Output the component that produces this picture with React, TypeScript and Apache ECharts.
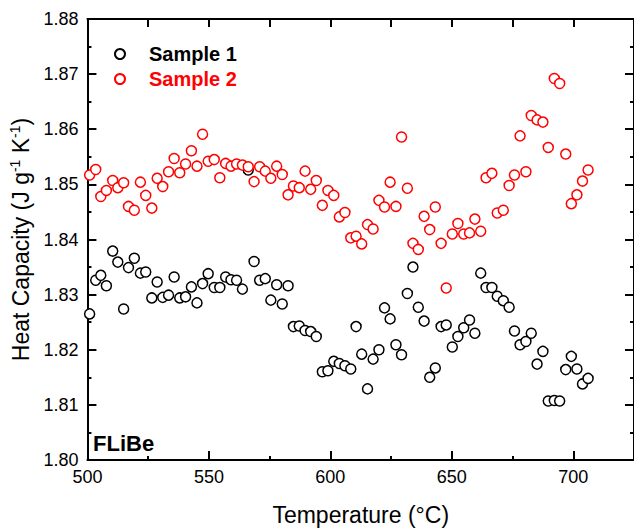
import React, { useEffect, useRef } from "react";
import * as echarts from "echarts";

const temps = [
  500.9, 503.4, 505.5, 507.8, 510.4, 512.5, 514.9, 516.9, 519.3, 521.8,
  524.0, 526.5, 528.7, 531.0, 533.4, 535.7, 538.0, 540.4, 542.8, 545.1,
  547.4, 549.7, 552.2, 554.5, 556.9, 559.1, 561.4, 563.8, 566.2, 568.6,
  570.9, 573.2, 575.5, 577.9, 580.2, 582.6, 584.8, 587.2, 589.6, 591.9,
  594.2, 596.7, 599.0, 601.4, 603.7, 606.0, 608.4, 610.6, 612.9, 615.3,
  617.6, 620.0, 622.3, 624.6, 627.0, 629.3, 631.7, 634.0, 636.2, 638.6,
  640.9, 643.2, 645.6, 647.7, 650.2, 652.5, 654.9, 657.3, 659.5, 661.9,
  664.1, 666.5, 668.7, 671.2, 673.6, 675.8, 678.1, 680.5, 682.7, 685.1,
  687.5, 689.7, 692.2, 694.4, 696.9, 699.2, 701.5, 703.8, 706.1,
];

const sample1 = [
  1.8265, 1.8326, 1.8335, 1.8316, 1.8379, 1.8359, 1.8274, 1.8349, 1.8366, 1.8339,
  1.8341, 1.8294, 1.8323, 1.8295, 1.8299, 1.8332, 1.8294, 1.8296, 1.8314, 1.8285,
  1.832, 1.8338, 1.8313, 1.8313, 1.8332, 1.8327, 1.8326, 1.831, 1.8526, 1.836,
  1.8326, 1.8329, 1.829, 1.8318, 1.8283, 1.8316, 1.8242, 1.8243, 1.8235, 1.8233,
  1.8224, 1.816, 1.8162, 1.8179, 1.8175, 1.8171, 1.8165, 1.8242, 1.8192, 1.8129,
  1.8183, 1.82, 1.8276, 1.8256, 1.8209, 1.8191, 1.8302, 1.835, 1.8277, 1.8252,
  1.815, 1.8167, 1.8242, 1.8245, 1.8205, 1.8224, 1.824, 1.8254, 1.823, 1.8339,
  1.8313, 1.8313, 1.8297, 1.8289, 1.8277, 1.8234, 1.8209, 1.8215, 1.823, 1.8174,
  1.8197, 1.8107, 1.8108, 1.8107, 1.8164, 1.8188, 1.8165, 1.8138, 1.8148,
];

const sample2 = [
  1.8517, 1.8527, 1.8478, 1.8489, 1.8507, 1.8494, 1.8503, 1.846, 1.8453, 1.8504,
  1.848, 1.8457, 1.8511, 1.8496, 1.8523, 1.8547, 1.8521, 1.8537, 1.8561, 1.8533,
  1.8591, 1.8542, 1.8545, 1.8512, 1.8538, 1.8533, 1.8537, 1.8535, 1.8532, 1.8505,
  1.8532, 1.8524, 1.8511, 1.8533, 1.8518, 1.8481, 1.8497, 1.8494, 1.8524, 1.8491,
  1.8507, 1.8462, 1.8489, 1.848, 1.8441, 1.8449, 1.8403, 1.8406, 1.8392, 1.8427,
  1.8419, 1.8471, 1.8459, 1.8504, 1.846, 1.8586, 1.8493, 1.8393, 1.8382, 1.8442,
  1.8418, 1.8459, 1.8393, 1.8312, 1.841, 1.8429, 1.841, 1.8412, 1.8437, 1.8415,
  1.8512, 1.852, 1.8448, 1.8453, 1.8498, 1.8517, 1.8588, 1.8523, 1.8625, 1.8617,
  1.8613, 1.8567, 1.8692, 1.8683, 1.8555, 1.8465, 1.8481, 1.8506, 1.8526,
];

const seriesNames = ["Sample 1", "Sample 2"];
const seriesColors = ["#000000", "#ff0000"];
const X_MIN = 500;
const X_MAX = 725;
const Y_MIN = 1.8;
const Y_MAX = 1.88;

const FONT = "'Liberation Sans', Arial, sans-serif";

export default function App() {
  const ref = useRef<HTMLDivElement>(null);

  useEffect(() => {
    if (!ref.current) return;
    const chart = echarts.init(ref.current, null, { renderer: "svg" });
    const axisLine = { show: true, lineStyle: { color: "#000", width: 2 } };
    const baseX = {
      type: "value" as const,
      min: X_MIN,
      max: X_MAX,
      splitLine: { show: false },
    };
    const baseY = {
      type: "value" as const,
      min: Y_MIN,
      max: Y_MAX,
      interval: 0.01,
      splitLine: { show: false },
    };
    chart.setOption({
      animation: false,
      backgroundColor: "#fff",
      grid: { left: 86, top: 19, width: 552, height: 447 },
      legend: {
        orient: "vertical",
        left: 109,
        top: 39,
        itemWidth: 48,
        itemHeight: 10,
        itemGap: 5,
        selectedMode: false,
        textStyle: { fontSize: 20, fontWeight: "bold", fontFamily: FONT, lineHeight: 20 },
        data: seriesNames.map((n, i) => ({ name: n, textStyle: { color: seriesColors[i] } })),
      },
      xAxis: [
        {
          ...baseX,
          position: "bottom",
          interval: 50,
          axisLine,
          axisTick: { show: true, inside: true, length: 9, lineStyle: { width: 2, color: "#000" } },
          axisLabel: {
            show: true,
            fontSize: 18,
            fontFamily: FONT,
            color: "#000",
            margin: 8,
            showMaxLabel: false,
          },
          name: "Temperature (°C)",
          nameLocation: "middle",
          nameGap: 43,
          nameTextStyle: { fontSize: 23, fontFamily: FONT, color: "#000" },
        },
        {
          ...baseX,
          position: "bottom",
          interval: 25,
          axisLine: { show: false },
          axisTick: { show: true, inside: true, length: 4, lineStyle: { width: 2, color: "#000" } },
          axisLabel: { show: false },
        },
        {
          ...baseX,
          position: "top",
          interval: 25,
          axisLine,
          axisTick: { show: true, inside: true, length: 8, lineStyle: { width: 2, color: "#000" } },
          axisLabel: { show: false },
        },
      ],
      yAxis: [
        {
          ...baseY,
          position: "left",
          axisLine,
          axisTick: { show: true, inside: true, length: 9, lineStyle: { width: 2, color: "#000" } },
          minorTick: { show: true, splitNumber: 2, length: 4, lineStyle: { width: 2, color: "#000" } },
          axisLabel: {
            show: true,
            fontSize: 18,
            fontFamily: FONT,
            color: "#000",
            margin: 9,
            formatter: (v: number) => v.toFixed(2),
          },
          name: "{a|Heat Capacity (J g}{s|-1}{a| K}{s|-1}{a|)}",
          nameLocation: "middle",
          nameGap: 50,
          nameTextStyle: {
            fontFamily: FONT,
            color: "#000",
            rich: {
              a: { fontSize: 23, fontFamily: FONT, color: "#000", lineHeight: 26 },
              s: { fontSize: 14, fontFamily: FONT, color: "#000", lineHeight: 14, verticalAlign: "top" },
            },
          },
        },
        {
          ...baseY,
          position: "right",
          axisLine,
          axisTick: { show: true, inside: true, length: 9, lineStyle: { width: 2, color: "#000" } },
          minorTick: { show: true, splitNumber: 2, length: 4, lineStyle: { width: 2, color: "#000" } },
          axisLabel: { show: false },
        },
      ],
      graphic: [
        {
          type: "text",
          left: 93,
          top: 432,
          style: { text: "FLiBe", fontSize: 22, fontWeight: "bold", fontFamily: FONT, fill: "#000" },
        },
      ],
      series: [sample1, sample2].map((vals, i) => ({
        type: "scatter",
        name: seriesNames[i],
        xAxisIndex: 0,
        yAxisIndex: 0,
        symbol: "circle",
        symbolSize: 10,
        itemStyle: { color: "#fff", borderColor: seriesColors[i], borderWidth: 1.5, opacity: 1 },
        emphasis: { disabled: true },
        data: temps.map((t, j) => [t, vals[j]]),
        z: 2 + i,
      })),
    });
    return () => chart.dispose();
  }, []);

  return (
    <div
      ref={ref}
      style={{ position: "absolute", left: 0, top: 0, width: 634, height: 531, overflow: "hidden" }}
    />
  );
}
